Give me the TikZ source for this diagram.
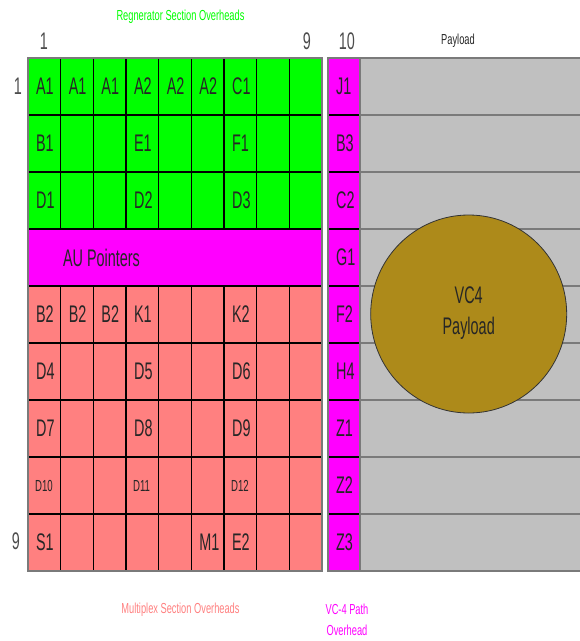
\documentclass[tikz,border=0pt]{standalone}
\usepackage{fontspec}
\setmainfont{Liberation Sans}
\usetikzlibrary{positioning}
\definecolor{rsoh}{HTML}{00FF00}
\definecolor{msoh}{HTML}{FF8080}
\definecolor{poh}{HTML}{FF00FF}
\definecolor{payload}{HTML}{C0C0C0}
\definecolor{vcfour}{HTML}{AD8A1A}
\definecolor{rimgray}{HTML}{7A7A7A}

\tikzset{
  cell/.style={anchor=west, inner sep=0pt, xscale=0.6, text=black!85,
    font=\fontsize{24}{24}\selectfont},
  smallcell/.style={cell, font=\fontsize{16}{16}\selectfont},
  colnum/.style={inner sep=0pt, xscale=0.6, text=black!70,
    font=\fontsize{24}{24}\selectfont},
  caption/.style={inner sep=0pt, xscale=0.64, align=center,
    font=\fontsize{14.5}{21}\selectfont},
  gridline/.style={black, line width=1.2pt},
  payline/.style={rimgray, line width=2.2pt},
}

\begin{document}
\begin{tikzpicture}[x=1pt,y=-1pt]
    \useasboundingbox (0,0) rectangle (580,641);

    % Section overheads
    \fill[rsoh] (28,58) rectangle (322,229);
    \fill[poh] (28,229) rectangle (322,286);
    \fill[msoh] (28,286) rectangle (322,571);

    % Path overhead and payload
    \fill[poh] (328,58) rectangle (360,571);
    \fill[payload] (360,58) rectangle (580,571);

    % Grid lines
    \foreach \y in {115,172,229,286,343,400,457,514} {
        \draw[gridline] (28,\y) -- (322,\y);
        \draw[gridline] (328,\y) -- (360,\y);
        \draw[payline] (360,\y) -- (580,\y);
    }
    \foreach \k in {1,...,8} {
        \draw[gridline] ({28+32.667*\k},58) -- ({28+32.667*\k},229);
        \draw[gridline] ({28+32.667*\k},286) -- ({28+32.667*\k},571);
    }
    \draw[gridline] (360,58) -- (360,571);
    \draw[payline] (360,58) -- (580,58);
    \draw[payline] (360,571) -- (580,571);
    \draw[rimgray, line width=1.5pt] (28,58) rectangle (322,571);
    \draw[rimgray, line width=1.5pt] (328,58) rectangle (360,571);

    % VC4 payload
    \filldraw[fill=vcfour, draw=black!80, line width=0.8pt]
        (468.7,314) ellipse [x radius=98, y radius=99];
    \node[caption, xscale=0.94, font=\fontsize{24}{31}\selectfont, text=black!85]
        (vc4) at (468.7,313) {VC4\\Payload};

    % Overhead bytes
    \foreach \r/\c/\t in {1/1/A1, 1/2/A1, 1/3/A1, 1/4/A2, 1/5/A2, 1/6/A2, 1/7/C1,
                          2/1/B1, 2/4/E1, 2/7/F1,
                          3/1/D1, 3/4/D2, 3/7/D3,
                          5/1/B2, 5/2/B2, 5/3/B2, 5/4/K1, 5/7/K2,
                          6/1/D4, 6/4/D5, 6/7/D6,
                          7/1/D7, 7/4/D8, 7/7/D9,
                          9/1/S1, 9/6/M1, 9/7/E2}
        \node[cell] (oh-\r-\c) at ({28+32.667*(\c-1)+8},{86.5+57*(\r-1)}) {\t};
    \foreach \c/\t in {1/D10, 4/D11, 7/D12}
        \node[smallcell] (oh-8-\c) at ({28+32.667*(\c-1)+7},485.5) {\t};
    \node[cell] (aupointers) at (63,257.5) {AU Pointers};

    % Path overhead bytes
    \foreach \r/\t in {1/J1, 2/B3, 3/C2, 4/G1, 5/F2, 6/H4, 7/Z1, 8/Z2, 9/Z3}
        \node[cell] (poh-\r) at (336,{86.5+57*(\r-1)}) {\t};

    % Row and column numbers
    \node[colnum] (col1) at (44,41) {1};
    \node[colnum] (col9) at (307,41) {9};
    \node[colnum] (col10) at (347,41) {10};
    \node[caption, text=black!85] (paylabel) at (458,41) {Payload};
    \node[colnum] (row1) at (18,86) {1};
    \node[colnum] (row9) at (16,541) {9};

    % Section labels
    \node[caption, text=rsoh] (rsohlabel) at (180.5,16.5) {Regnerator Section Overheads};
    \node[caption, text=msoh] (msohlabel) at (180.5,610) {Multiplex Section Overheads};
    \node[caption, text=poh] (pohlabel) at (347,620) {VC-4 Path\\Overhead};
\end{tikzpicture}
\end{document}
